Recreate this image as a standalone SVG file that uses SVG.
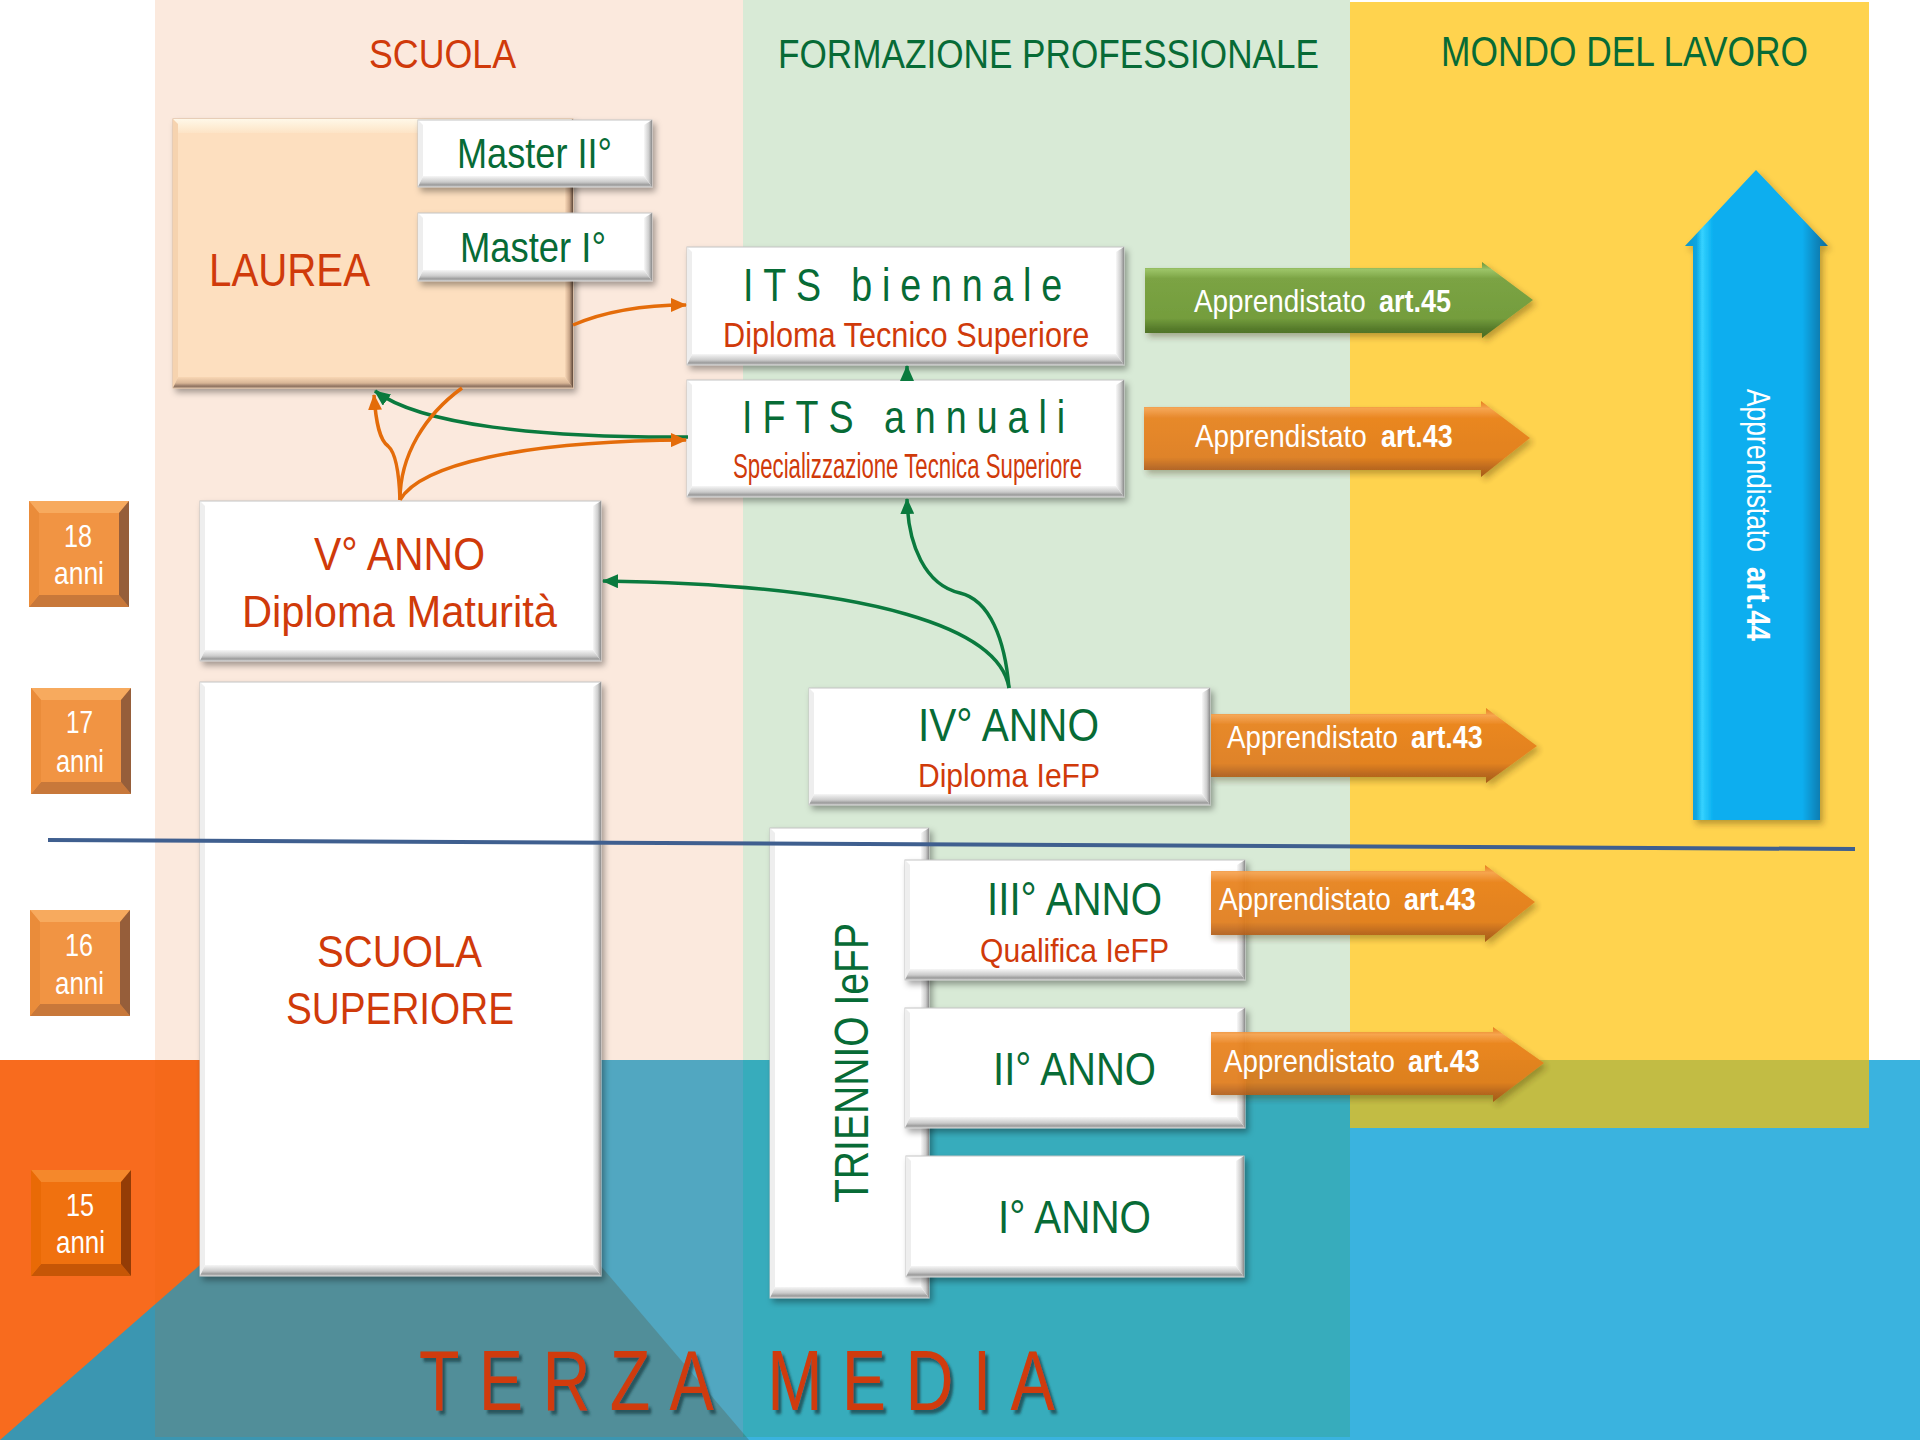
<svg xmlns="http://www.w3.org/2000/svg" width="1920" height="1440" viewBox="0 0 1920 1440">
<defs>
<style>
.t{font-family:"Liberation Sans",Arial,sans-serif}
.red{fill:#D03A0A}
.grn{fill:#076B36}
.wht{fill:#ffffff}
.b{font-weight:bold}
.box{fill:#ffffff;stroke:#c4c4c4;stroke-width:1}
.bl{fill:#eeeeee}
.bb{fill:url(#gB)}
.br{fill:url(#gR)}
.pbox{fill:#FDDFBF;stroke:#d9b898;stroke-width:1}
.pb{fill:url(#gPB)}
.pr{fill:url(#gPR)}
.pl{fill:#F6D3AF}
.conO{fill:none;stroke:#E46C0A;stroke-width:3.5}
.conG{fill:none;stroke:#0A7A3E;stroke-width:3.5}
.arrO{fill:url(#gAO);opacity:.93}
.arrG{fill:url(#gAG)}
</style>
<linearGradient id="gB" x1="0" y1="0" x2="0" y2="1"><stop offset="0" stop-color="#f6f6f6"/><stop offset=".55" stop-color="#cacaca"/><stop offset=".82" stop-color="#999999"/><stop offset="1" stop-color="#d6d6d6"/></linearGradient>
<linearGradient id="gR" x1="0" y1="0" x2="1" y2="0"><stop offset="0" stop-color="#f8f8f8"/><stop offset=".6" stop-color="#cdcdcd"/><stop offset="1" stop-color="#8a8a8a"/></linearGradient>
<linearGradient id="gPB" x1="0" y1="0" x2="0" y2="1"><stop offset="0" stop-color="#F9D7B4"/><stop offset=".55" stop-color="#D8B596"/><stop offset=".85" stop-color="#8E7260"/><stop offset="1" stop-color="#C9AD95"/></linearGradient>
<linearGradient id="gPR" x1="0" y1="0" x2="1" y2="0"><stop offset="0" stop-color="#FAD9B8"/><stop offset=".55" stop-color="#C8A588"/><stop offset="1" stop-color="#5E4738"/></linearGradient>
<linearGradient id="gPT" x1="0" y1="0" x2="0" y2="1"><stop offset="0" stop-color="#FFF8E8"/><stop offset="1" stop-color="#FDE4C6"/></linearGradient>
<linearGradient id="gAO" x1="0" y1="0" x2="0" y2="1"><stop offset="0" stop-color="#E27818"/><stop offset=".1" stop-color="#F7A24E"/><stop offset=".22" stop-color="#E9821F"/><stop offset=".74" stop-color="#E07C1D"/><stop offset=".88" stop-color="#B7621A"/><stop offset="1" stop-color="#A05517"/></linearGradient>
<linearGradient id="gAG" x1="0" y1="0" x2="0" y2="1"><stop offset="0" stop-color="#6A9236"/><stop offset=".1" stop-color="#9CC468"/><stop offset=".22" stop-color="#7BA344"/><stop offset=".74" stop-color="#749D3D"/><stop offset=".88" stop-color="#567B2B"/><stop offset="1" stop-color="#4A6B24"/></linearGradient>
<linearGradient id="gAB" gradientUnits="userSpaceOnUse" x1="1685" y1="0" x2="1828" y2="0"><stop offset="0" stop-color="#0795CC"/><stop offset=".08" stop-color="#0AA6E2"/><stop offset=".12" stop-color="#35D2FF"/><stop offset=".2" stop-color="#08AEEF"/><stop offset=".82" stop-color="#08AEEF"/><stop offset=".92" stop-color="#0B86BD"/><stop offset="1" stop-color="#0A6C9C"/></linearGradient>
<filter id="sh" x="-10%" y="-10%" width="125%" height="130%"><feDropShadow dx="3" dy="4" stdDeviation="3" flood-color="#000" flood-opacity=".35"/></filter>
<filter id="sha" x="-10%" y="-20%" width="125%" height="150%"><feDropShadow dx="3" dy="4" stdDeviation="3" flood-color="#3a2a10" flood-opacity=".35"/></filter>
<filter id="tsh" x="-5%" y="-20%" width="115%" height="150%"><feDropShadow dx="4" dy="4" stdDeviation="1.5" flood-color="#1E3F46" flood-opacity=".75"/></filter>
<marker id="mO" viewBox="0 0 16 14" refX="15" refY="7" markerWidth="16" markerHeight="14" markerUnits="userSpaceOnUse" orient="auto"><path d="M0,0 L16,7 L0,14 Z" fill="#E46C0A"/></marker>
<marker id="mG" viewBox="0 0 16 14" refX="15" refY="7" markerWidth="16" markerHeight="14" markerUnits="userSpaceOnUse" orient="auto"><path d="M0,0 L16,7 L0,14 Z" fill="#0A7A3E"/></marker>
<g id="age" opacity=".77">
<rect x="0" y="0" width="100" height="106" fill="#EE740B"/>
<path d="M0,0 L100,0 L90,12 L10,12 Z" fill="#F5912F"/>
<path d="M0,106 L10,94 L90,94 L100,106 Z" fill="#B85000"/>
<path d="M0,0 L10,12 L10,94 L0,106 Z" fill="#E56A00"/>
<path d="M100,0 L100,106 L90,94 L90,12 Z" fill="#772F00"/>
</g>
</defs>

<g id="background">
<rect x="0" y="0" width="1920" height="1440" fill="#ffffff"/>
<rect x="0" y="1060" width="1920" height="380" fill="#3AB3DF"/>
<rect x="0" y="1060" width="200" height="380" fill="#F86B1E"/>
<polygon points="200,1265 600,1265 749,1440 0,1440" fill="#3B96B1"/>
<rect x="155" y="0" width="588" height="1437" fill="rgb(226,95,7)" fill-opacity=".137"/>
<rect x="743" y="0" width="607" height="1437" fill="rgb(42,140,31)" fill-opacity=".183"/>
<rect x="1350" y="2" width="519" height="1126" fill="#FFC000" fill-opacity=".695"/>
<text class="t red" x="369" y="68" font-size="40" textLength="147" lengthAdjust="spacingAndGlyphs">SCUOLA</text>
<text class="t grn" x="778" y="68" font-size="40" textLength="541" lengthAdjust="spacingAndGlyphs">FORMAZIONE PROFESSIONALE</text>
<text class="t grn" x="1441" y="66" font-size="42" textLength="367" lengthAdjust="spacingAndGlyphs">MONDO DEL LAVORO</text>
<text class="t red" transform="translate(419,1410) scale(0.78,1)" x="0" y="0" font-size="85" textLength="815" lengthAdjust="spacing" filter="url(#tsh)">TERZA MEDIA</text>
</g>

<g id="eta">
<g id="eta18"><use href="#age" x="29" y="501"/><text class="t wht" x="64" y="547" font-size="32" textLength="28" lengthAdjust="spacingAndGlyphs">18</text><text class="t wht" x="54" y="584" font-size="32" textLength="50" lengthAdjust="spacingAndGlyphs">anni</text></g>
<g id="eta17"><use href="#age" x="31" y="688"/><text class="t wht" x="66" y="733" font-size="32" textLength="27" lengthAdjust="spacingAndGlyphs">17</text><text class="t wht" x="56" y="772" font-size="32" textLength="48" lengthAdjust="spacingAndGlyphs">anni</text></g>
<g id="eta16"><use href="#age" x="30" y="910"/><text class="t wht" x="65" y="956" font-size="32" textLength="28" lengthAdjust="spacingAndGlyphs">16</text><text class="t wht" x="55" y="994" font-size="32" textLength="49" lengthAdjust="spacingAndGlyphs">anni</text></g>
<g id="eta15"><use href="#age" x="31" y="1170"/><text class="t wht" x="66" y="1216" font-size="32" textLength="28" lengthAdjust="spacingAndGlyphs">15</text><text class="t wht" x="56" y="1253" font-size="32" textLength="49" lengthAdjust="spacingAndGlyphs">anni</text></g>
</g>

<g id="laurea">
<rect class="pbox" x="173" y="119" width="400" height="269" filter="url(#sh)"/>
<path d="M173,119 L573,119 L565,133 L178,133 Z" fill="url(#gPT)"/>
<path class="pl" d="M173,119 L178,124 L178,377 L173,388 Z"/>
<path class="pb" d="M173,388 L178,377 L565,377 L573,388 Z"/>
<path class="pr" d="M573,119 L573,388 L565,377 L565,124 Z"/>
<text class="t red" x="209" y="286" font-size="47" textLength="161" lengthAdjust="spacingAndGlyphs">LAUREA</text>
</g>

<g id="master2">
<rect class="box" x="418" y="120" width="234" height="67" filter="url(#sh)"/>
<path class="bl" d="M418,120 L423,125 L423,176 L418,187 Z"/>
<path class="bb" d="M418,187 L423,176 L644,176 L652,187 Z"/>
<path class="br" d="M652,120 L652,187 L644,176 L644,125 Z"/>
<text class="t grn" x="457" y="168" font-size="42" textLength="155" lengthAdjust="spacingAndGlyphs">Master II°</text>
</g>

<g id="master1">
<rect class="box" x="418" y="213" width="234" height="68" filter="url(#sh)"/>
<path class="bl" d="M418,213 L423,218 L423,270 L418,281 Z"/>
<path class="bb" d="M418,281 L423,270 L644,270 L652,281 Z"/>
<path class="br" d="M652,213 L652,281 L644,270 L644,218 Z"/>
<text class="t grn" x="460" y="262" font-size="42" textLength="146" lengthAdjust="spacingAndGlyphs">Master I°</text>
</g>

<g id="its">
<rect class="box" x="687" y="247" width="437" height="118" filter="url(#sh)"/>
<path class="bl" d="M687,247 L692,252 L692,354 L687,365 Z"/>
<path class="bb" d="M687,365 L692,354 L1116,354 L1124,365 Z"/>
<path class="br" d="M1124,247 L1124,365 L1116,354 L1116,252 Z"/>
<text class="t grn" transform="translate(743,301) scale(0.8,1)" x="0" y="0" font-size="47" textLength="399" lengthAdjust="spacing">ITS biennale</text>
<text class="t red" transform="translate(723,347) scale(0.87,1)" x="0" y="0" font-size="35" textLength="421" lengthAdjust="spacingAndGlyphs">Diploma Tecnico Superiore</text>
</g>

<g id="ifts">
<rect class="box" x="687" y="380" width="437" height="117" filter="url(#sh)"/>
<path class="bl" d="M687,380 L692,385 L692,486 L687,497 Z"/>
<path class="bb" d="M687,497 L692,486 L1116,486 L1124,497 Z"/>
<path class="br" d="M1124,380 L1124,497 L1116,486 L1116,385 Z"/>
<text class="t grn" transform="translate(742,433) scale(0.8,1)" x="0" y="0" font-size="47" textLength="404" lengthAdjust="spacing">IFTS annuali</text>
<text class="t red" transform="translate(733,478) scale(0.62,1)" x="0" y="0" font-size="35" textLength="563" lengthAdjust="spacingAndGlyphs">Specializzazione Tecnica Superiore</text>
</g>

<g id="quinto-anno">
<rect class="box" x="200" y="501" width="401" height="160" filter="url(#sh)"/>
<path class="bl" d="M200,501 L205,506 L205,650 L200,661 Z"/>
<path class="bb" d="M200,661 L205,650 L593,650 L601,661 Z"/>
<path class="br" d="M601,501 L601,661 L593,650 L593,506 Z"/>
<text class="t red" x="314" y="570" font-size="46" textLength="171" lengthAdjust="spacingAndGlyphs">V° ANNO</text>
<text class="t red" x="242" y="627" font-size="45" textLength="315" lengthAdjust="spacingAndGlyphs">Diploma Maturità</text>
</g>

<g id="scuola-superiore">
<rect class="box" x="200" y="682" width="401" height="594" filter="url(#sh)"/>
<path class="bl" d="M200,682 L205,687 L205,1265 L200,1276 Z"/>
<path class="bb" d="M200,1276 L205,1265 L593,1265 L601,1276 Z"/>
<path class="br" d="M601,682 L601,1276 L593,1265 L593,687 Z"/>
<text class="t red" x="317" y="967" font-size="45" textLength="165" lengthAdjust="spacingAndGlyphs">SCUOLA</text>
<text class="t red" x="286" y="1024" font-size="45" textLength="228" lengthAdjust="spacingAndGlyphs">SUPERIORE</text>
</g>

<g id="quarto-anno">
<rect class="box" x="809" y="688" width="401" height="117" filter="url(#sh)"/>
<path class="bl" d="M809,688 L814,693 L814,794 L809,805 Z"/>
<path class="bb" d="M809,805 L814,794 L1202,794 L1210,805 Z"/>
<path class="br" d="M1210,688 L1210,805 L1202,794 L1202,693 Z"/>
<text class="t grn" x="918" y="741" font-size="46" textLength="181" lengthAdjust="spacingAndGlyphs">IV° ANNO</text>
<text class="t red" x="918" y="787" font-size="34" textLength="182" lengthAdjust="spacingAndGlyphs">Diploma IeFP</text>
</g>

<g id="triennio">
<rect class="box" x="770" y="828" width="159" height="470" filter="url(#sh)"/>
<path class="bl" d="M770,828 L775,833 L775,1287 L770,1298 Z"/>
<path class="bb" d="M770,1298 L775,1287 L921,1287 L929,1298 Z"/>
<path class="br" d="M929,828 L929,1298 L921,1287 L921,833 Z"/>
<text class="t grn" transform="translate(868,1203) rotate(-90)" x="0" y="0" font-size="48" textLength="280" lengthAdjust="spacingAndGlyphs">TRIENNIO IeFP</text>
</g>

<g id="terzo-anno">
<rect class="box" x="905" y="860" width="340" height="120" filter="url(#sh)"/>
<path class="bl" d="M905,860 L910,865 L910,969 L905,980 Z"/>
<path class="bb" d="M905,980 L910,969 L1237,969 L1245,980 Z"/>
<path class="br" d="M1245,860 L1245,980 L1237,969 L1237,865 Z"/>
<text class="t grn" x="987" y="915" font-size="46" textLength="175" lengthAdjust="spacingAndGlyphs">III° ANNO</text>
<text class="t red" x="980" y="962" font-size="34" textLength="189" lengthAdjust="spacingAndGlyphs">Qualifica IeFP</text>
</g>

<g id="secondo-anno">
<rect class="box" x="905" y="1008" width="340" height="120" filter="url(#sh)"/>
<path class="bl" d="M905,1008 L910,1013 L910,1117 L905,1128 Z"/>
<path class="bb" d="M905,1128 L910,1117 L1237,1117 L1245,1128 Z"/>
<path class="br" d="M1245,1008 L1245,1128 L1237,1117 L1237,1013 Z"/>
<text class="t grn" x="993" y="1085" font-size="46" textLength="163" lengthAdjust="spacingAndGlyphs">II° ANNO</text>
</g>

<g id="primo-anno">
<rect class="box" x="906" y="1156" width="338" height="121" filter="url(#sh)"/>
<path class="bl" d="M906,1156 L911,1161 L911,1266 L906,1277 Z"/>
<path class="bb" d="M906,1277 L911,1266 L1236,1266 L1244,1277 Z"/>
<path class="br" d="M1244,1156 L1244,1277 L1236,1266 L1236,1161 Z"/>
<text class="t grn" x="998" y="1233" font-size="46" textLength="153" lengthAdjust="spacingAndGlyphs">I° ANNO</text>
</g>

<g id="linea-obbligo">
<path d="M48,840 L1855,849" fill="none" stroke="#3F5F8F" stroke-width="4"/>
</g>

<g id="app45">
<polygon class="arrG" points="1145,268 1482,268 1482,262 1533,300 1482,338 1482,333 1145,333" filter="url(#sha)"/>
<text class="t wht" transform="translate(1194,312) scale(0.87,1)" x="0" y="0" font-size="32">Apprendistato</text>
<text class="t wht b" transform="translate(1379,312) scale(0.845,1)" x="0" y="0" font-size="32">art.45</text>
</g>

<g id="app43-ifts">
<polygon class="arrO" points="1144,407 1481,407 1481,401 1530,438 1481,477 1481,470 1144,470" filter="url(#sha)"/>
<text class="t wht" transform="translate(1195,447) scale(0.87,1)" x="0" y="0" font-size="32">Apprendistato</text>
<text class="t wht b" transform="translate(1381,447) scale(0.84,1)" x="0" y="0" font-size="32">art.43</text>
</g>

<g id="app43-iv">
<polygon class="arrO" points="1211,714 1486,714 1486,708 1537,746 1486,783 1486,777 1211,777" filter="url(#sha)"/>
<text class="t wht" transform="translate(1227,748) scale(0.866,1)" x="0" y="0" font-size="32">Apprendistato</text>
<text class="t wht b" transform="translate(1411,748) scale(0.84,1)" x="0" y="0" font-size="32">art.43</text>
</g>

<g id="app43-iii">
<polygon class="arrO" points="1211,871 1485,871 1485,865 1535,902 1485,942 1485,935 1211,935" filter="url(#sha)"/>
<text class="t wht" transform="translate(1219,910) scale(0.87,1)" x="0" y="0" font-size="32">Apprendistato</text>
<text class="t wht b" transform="translate(1404,910) scale(0.84,1)" x="0" y="0" font-size="32">art.43</text>
</g>

<g id="app43-ii">
<polygon class="arrO" points="1211,1032 1493,1032 1493,1027 1544,1063 1493,1102 1493,1095 1211,1095" filter="url(#sha)"/>
<text class="t wht" transform="translate(1224,1072) scale(0.866,1)" x="0" y="0" font-size="32">Apprendistato</text>
<text class="t wht b" transform="translate(1408,1072) scale(0.84,1)" x="0" y="0" font-size="32">art.43</text>
</g>

<g id="app44">
<polygon points="1693,820 1693,246 1685,246 1756,170 1828,246 1820,246 1820,820" fill="url(#gAB)" filter="url(#sha)"/>
<text class="t wht" transform="translate(1747,389) rotate(90) scale(0.8,1)" x="0" y="0" font-size="33">Apprendistato</text>
<text class="t wht b" transform="translate(1747,567) rotate(90) scale(0.84,1)" x="0" y="0" font-size="33">art.44</text>
</g>

<g id="connettori">
<path class="conO" d="M573,325 Q620,305 686,305" marker-end="url(#mO)"/>
<path class="conG" d="M688,437 C540,438 420,425 375,391" marker-end="url(#mG)"/>
<path class="conO" d="M400,500 C399,470 395,452 388,446 C380,440 376,425 374,395" marker-end="url(#mO)"/>
<path class="conO" d="M400,500 C400,455 425,415 462,388"/>
<path class="conO" d="M400,500 C420,465 520,441 686,440" marker-end="url(#mO)"/>
<path class="conG" d="M1009,688 C1000,630 880,585 603,581" marker-end="url(#mG)"/>
<path class="conG" d="M1009,688 C1005,640 990,600 960,593 C925,585 908,545 907,499" marker-end="url(#mG)"/>
<path class="conG" d="M907,381 L907,366" marker-end="url(#mG)"/>
</g>
</svg>
